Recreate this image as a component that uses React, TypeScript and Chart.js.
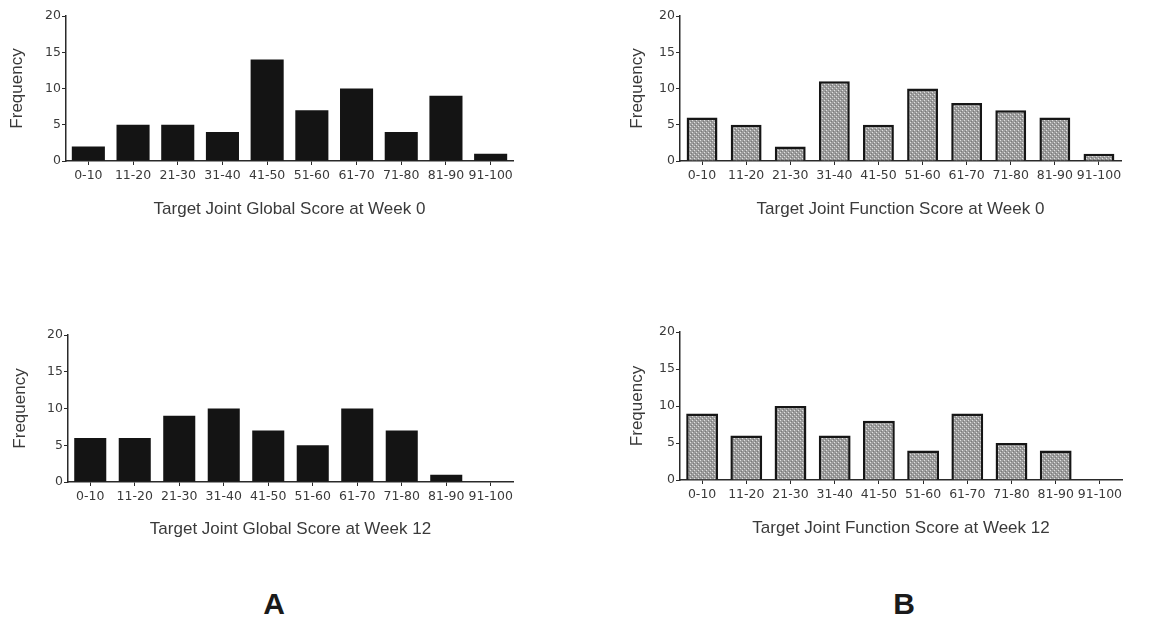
import React, { useEffect, useRef } from "react";
import { Chart, registerables } from "chart.js";

Chart.register(...registerables);

const categories = ["0-10", "11-20", "21-30", "31-40", "41-50", "51-60", "61-70", "71-80", "81-90", "91-100"];
const globalWeek0 = [2, 5, 5, 4, 14, 7, 10, 4, 9, 1];
const functionWeek0 = [6, 5, 2, 11, 5, 10, 8, 7, 6, 1];
const globalWeek12 = [6, 6, 9, 10, 7, 5, 10, 7, 1, 0];
const functionWeek12 = [9, 6, 10, 6, 8, 4, 9, 5, 4, 0];
const yTicks = [0, 5, 10, 15, 20];

const TEXT = "#3a3a3a";
const AXIS = "#2a2a2a";

function makePattern(): CanvasPattern | string {
  const c = document.createElement("canvas");
  c.width = 4;
  c.height = 4;
  const g = c.getContext("2d");
  if (!g) return "#a8a8a8";
  g.fillStyle = "#9c9c9c";
  g.fillRect(0, 0, 4, 4);
  g.fillStyle = "#e0e0e0";
  g.fillRect(0, 0, 1, 1);
  g.fillRect(2, 2, 1, 1);
  g.fillStyle = "#7a7a7a";
  g.fillRect(3, 1, 1, 1);
  g.fillRect(1, 3, 1, 1);
  const p = g.createPattern(c, "repeat");
  return p || "#a8a8a8";
}

type PanelProps = {
  left: number;
  top: number;
  width: number;
  height: number;
  yAxisWidth: number;
  xAxisHeight: number;
  padTop: number;
  padRight: number;
  xTitlePad: number;
  yTitlePad: number;
  values: number[];
  title: string;
  hatched: boolean;
  barPct: number;
};

function Panel(p: PanelProps) {
  const ref = useRef<HTMLCanvasElement | null>(null);
  useEffect(() => {
    if (!ref.current) return;
    const fill = p.hatched ? makePattern() : "#141414";
    const chart = new Chart(ref.current, {
      type: "bar",
      data: {
        labels: categories,
        datasets: [
          {
            data: p.values,
            backgroundColor: fill as any,
            borderColor: p.hatched ? "#161616" : "#141414",
            borderWidth: p.hatched ? 2.5 : 0,
            borderSkipped: "bottom",
            barPercentage: p.barPct,
            categoryPercentage: 1,
          },
        ],
      },
      options: {
        animation: false,
        responsive: false,
        maintainAspectRatio: false,
        layout: { padding: { top: p.padTop, right: p.padRight, left: 0, bottom: 0 } },
        plugins: { legend: { display: false }, tooltip: { enabled: false }, title: { display: false } },
        scales: {
          x: {
            afterFit: (s: any) => {
              s.height = p.xAxisHeight;
            },
            grid: {
              display: true,
              drawOnChartArea: false,
              drawTicks: true,
              tickLength: 4,
              offset: false,
              color: AXIS,
              lineWidth: 1,
            },
            border: { display: true, color: AXIS, width: 1.5 },
            ticks: {
              autoSkip: false,
              maxRotation: 0,
              minRotation: 0,
              padding: 3,
              color: TEXT,
              font: { family: "DejaVu Sans", size: 12.5 },
            },
            title: {
              display: true,
              text: p.title,
              color: TEXT,
              font: { family: "Liberation Sans", size: 17 },
              padding: { top: 0, bottom: p.xTitlePad },
            },
          },
          y: {
            min: 0,
            max: 20,
            afterFit: (s: any) => {
              s.width = p.yAxisWidth;
            },
            afterBuildTicks: (s: any) => {
              s.ticks = yTicks.map((v) => ({ value: v }));
            },
            grid: {
              display: true,
              drawOnChartArea: false,
              drawTicks: true,
              tickLength: 4,
              color: AXIS,
              lineWidth: 1,
            },
            border: { display: true, color: AXIS, width: 1.5 },
            ticks: {
              padding: 1,
              color: TEXT,
              font: { family: "DejaVu Sans", size: 12.5 },
            },
            title: {
              display: true,
              text: "Frequency",
              color: TEXT,
              font: { family: "Liberation Sans", size: 17 },
              padding: { top: p.yTitlePad, bottom: 0 },
            },
          },
        },
      },
    });
    return () => chart.destroy();
  }, []);
  return (
    <div style={{ position: "absolute", left: p.left, top: p.top, width: p.width, height: p.height }}>
      <canvas ref={ref} width={p.width} height={p.height} style={{ width: p.width, height: p.height, display: "block" }} />
    </div>
  );
}

export default function App() {
  return (
    <div style={{ position: "absolute", left: 0, top: 0, width: 1149, height: 621, background: "#fff", overflow: "hidden" }}>
      <Panel left={0} top={0} width={560} height={230} yAxisWidth={66} xAxisHeight={69} padTop={16} padRight={47}
        xTitlePad={10} yTitlePad={7} values={globalWeek0} title="Target Joint Global Score at Week 0" hatched={false} barPct={0.74} />
      <Panel left={620} top={0} width={529} height={230} yAxisWidth={60} xAxisHeight={69} padTop={16} padRight={28}
        xTitlePad={10} yTitlePad={7} values={functionWeek0} title="Target Joint Function Score at Week 0" hatched={true} barPct={0.7} />
      <Panel left={0} top={320} width={560} height={230} yAxisWidth={68} xAxisHeight={68} padTop={15} padRight={47}
        xTitlePad={10} yTitlePad={10} values={globalWeek12} title="Target Joint Global Score at Week 12" hatched={false} barPct={0.72} />
      <Panel left={620} top={320} width={529} height={230} yAxisWidth={60} xAxisHeight={70} padTop={12} padRight={27}
        xTitlePad={11} yTitlePad={7} values={functionWeek12} title="Target Joint Function Score at Week 12" hatched={true} barPct={0.72} />
      <div style={{ position: "absolute", left: 259, top: 586, width: 30, textAlign: "center", font: "bold 30px 'Liberation Sans'", color: "#1a1a1a", lineHeight: "36px" }}>A</div>
      <div style={{ position: "absolute", left: 889, top: 586, width: 30, textAlign: "center", font: "bold 30px 'Liberation Sans'", color: "#1a1a1a", lineHeight: "36px" }}>B</div>
    </div>
  );
}
